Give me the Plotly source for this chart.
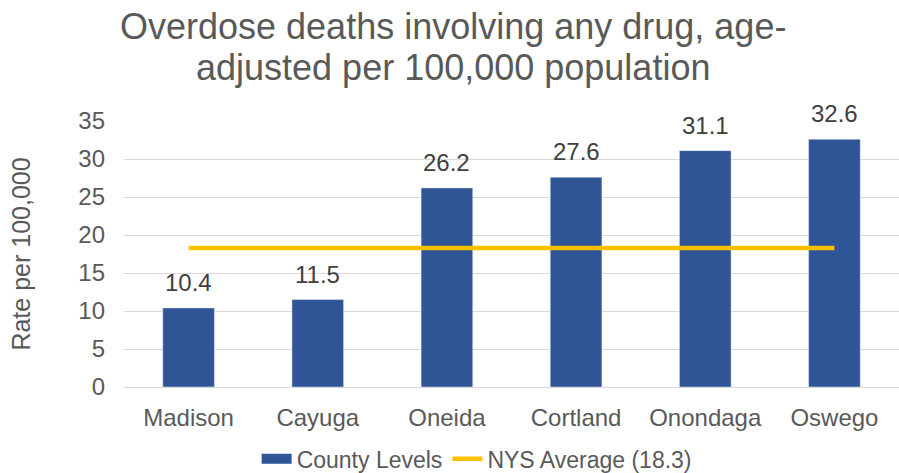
import plotly.graph_objects as go

counties = ["Madison", "Cayuga", "Oneida", "Cortland", "Onondaga", "Oswego"]
rates = [10.4, 11.5, 26.2, 27.6, 31.1, 32.6]
nys_avg = 18.3
y_ticks = [0, 5, 10, 15, 20, 25, 30, 35]
title_lines = ["Overdose deaths involving any drug, age-", "adjusted per 100,000 population"]

FONT = "Liberation Sans, Arial, sans-serif"
BAR = "#2F5597"
GOLD = "#FFC000"

fig = go.Figure()
fig.add_trace(go.Bar(
    x=counties, y=rates, name="County Levels", showlegend=False,
    marker_color=BAR, width=0.4,
))
# legend entry for bars (wide rectangle like the reference)
fig.add_trace(go.Scatter(
    x=[None], y=[None], name="County Levels", mode="lines",
    line=dict(color=BAR, width=11),
))
fig.add_trace(go.Scatter(
    x=counties, y=[nys_avg] * len(counties), name="NYS Average (18.3)",
    mode="lines", line=dict(color=GOLD, width=4.5),
))

# data labels
for c, v in zip(counties, rates):
    fig.add_annotation(x=c, y=v, text=f"{v:.1f}", showarrow=False,
                       xanchor="center", yanchor="bottom", yshift=10,
                       font=dict(size=24, color="#404040", family=FONT))

for i, line in enumerate(title_lines):
    fig.add_annotation(
        text=line, xref="paper", yref="paper", x=0.424, y=1.44 - i * 0.155,
        xanchor="center", yanchor="top", showarrow=False,
        font=dict(size=36, color="#595959", family=FONT),
    )

fig.update_layout(
    width=899, height=473,
    margin=dict(l=124, r=0, t=121, b=86, autoexpand=False),
    paper_bgcolor="white", plot_bgcolor="white",
    font=dict(family=FONT, color="#595959"),
    bargap=0.6,
    showlegend=True,
    legend=dict(orientation="h", x=0.455, xanchor="center", y=-0.27, yanchor="middle",
                font=dict(size=23, color="#595959", family=FONT),
                traceorder="normal", itemclick=False),
    xaxis=dict(tickfont=dict(size=24, color="#595959"), showline=False, ticks="",
               ticklabelstandoff=14),
    yaxis=dict(range=[0, 35], tickvals=y_ticks, showgrid=True, gridcolor="#D9D9D9",
               gridwidth=1.3, zeroline=True, zerolinecolor="#D9D9D9", zerolinewidth=1.3,
               tickfont=dict(size=24, color="#595959"), ticks="", ticklen=0,
               ticklabelstandoff=18,
               title=dict(text="Rate per 100,000", font=dict(size=25, color="#595959"), standoff=40)),
)

fig.write_html("out.html")
